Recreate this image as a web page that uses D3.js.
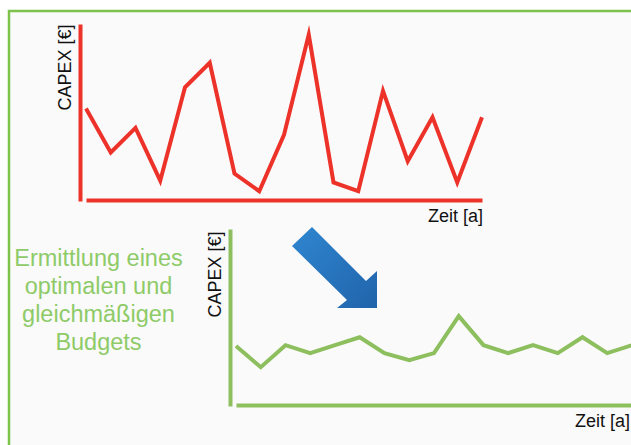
<!DOCTYPE html>
<html>
<head>
<meta charset="utf-8">
<script src="https://cdn.jsdelivr.net/npm/d3@7"></script>
<style>
  html, body { margin: 0; padding: 0; background: #ffffff; }
  svg { display: block; }
</style>
</head>
<body>
<div id="chart"></div>
<script>
// Years on the time axis (17 periods)
const years = d3.range(1, 18);

// CAPEX per year before optimisation (uneven, peaky)
const capexBefore = [52, 27, 41, 11, 64, 78, 15, 5, 37, 94, 10, 5, 62, 22, 47, 10, 47];

// CAPEX per year after optimisation (even budget)
const capexAfter = [33.5, 21.5, 34, 29.5, 34, 38.5, 29.5, 25.5, 29.5, 50.5, 34, 29.5, 34, 29.5, 38.5, 29.5, 34];

const yLabel = "CAPEX [€]";
const xLabel = "Zeit [a]";
const captionLines = ["Ermittlung eines", "optimalen und", "gleichmäßigen", "Budgets"];

const W = 631, H = 445;
const FONT = "'Liberation Sans', Arial, sans-serif";

const svg = d3.select("#chart").append("svg")
  .attr("width", W).attr("height", H);

// Frame around the slide content
svg.append("rect")
  .attr("x", 9).attr("y", 11)
  .attr("width", 700).attr("height", 500)
  .attr("fill", "#fafafa")
  .attr("stroke", "#7dc24b")
  .attr("stroke-width", 2.5);

// One small line chart with bare axes
function panel(opts) {
  const g = svg.append("g");
  const x = d3.scaleLinear().domain([1, 17]).range([opts.x0, opts.x1]);
  const y = d3.scaleLinear().domain([0, 100]).range([opts.yBottom, opts.yTop]);

  const xAxis = g.append("g")
    .attr("transform", `translate(0,${opts.yBottom})`)
    .call(d3.axisBottom(x).ticks(0).tickSizeOuter(0));
  const yAxis = g.append("g")
    .attr("transform", `translate(${opts.yAxisX},0)`)
    .call(d3.axisLeft(y.copy().range([opts.yBottom + 1, opts.yTop])).ticks(0).tickSizeOuter(0));
  [xAxis, yAxis].forEach(a => {
    a.selectAll(".tick").remove();
    a.select(".domain")
      .attr("stroke", opts.color)
      .attr("stroke-width", 4)
      .attr("fill", "none");
  });

  const line = d3.line()
    .x((d, i) => x(years[i]))
    .y(d => y(d));

  g.append("path")
    .datum(opts.values)
    .attr("d", line)
    .attr("fill", "none")
    .attr("stroke", opts.color)
    .attr("stroke-width", 4)
    .attr("stroke-linejoin", "miter")
    .attr("stroke-miterlimit", 10);

  g.append("text")
    .attr("transform", `translate(${opts.yAxisX - 9},${opts.labelMidY}) rotate(-90)`)
    .attr("text-anchor", "middle")
    .attr("font-family", FONT)
    .attr("font-size", 18)
    .attr("fill", "#111")
    .text(yLabel);

  g.append("text")
    .attr("x", opts.xLabelEnd)
    .attr("y", opts.yBottom + 22)
    .attr("text-anchor", "end")
    .attr("font-family", FONT)
    .attr("font-size", 18)
    .attr("fill", "#111")
    .text(xLabel);
}

panel({ values: capexBefore, color: "#ec3229", x0: 86, x1: 482, yAxisX: 80, yTop: 24, yBottom: 200,
        labelMidY: 67.5, xLabelEnd: 483 });
panel({ values: capexAfter, color: "#8dbf5f", x0: 236, x1: 632, yAxisX: 230, yTop: 229, yBottom: 405,
        labelMidY: 274.5, xLabelEnd: 630 });

// Caption on the left
const caption = svg.append("text")
  .attr("font-family", FONT)
  .attr("font-size", 23.5)
  .attr("fill", "#8ecb68")
  .attr("text-anchor", "middle");
captionLines.forEach((t, i) => {
  caption.append("tspan").attr("x", 98.5).attr("y", 266 + i * 28).text(t);
});

// Blue arrow pointing from the uneven to the even budget
const defs = svg.append("defs");
const grad = defs.append("linearGradient")
  .attr("id", "arrowFill")
  .attr("x1", "0%").attr("y1", "0%").attr("x2", "100%").attr("y2", "100%");
grad.append("stop").attr("offset", "0%").attr("stop-color", "#2f86d0");
grad.append("stop").attr("offset", "100%").attr("stop-color", "#2064ab");

const arrowPts = [[312, 227], [366, 281], [377, 271], [377, 308], [337, 308], [347, 300], [292, 246]];
svg.append("path")
  .attr("d", d3.line()(arrowPts) + "Z")
  .attr("fill", "url(#arrowFill)");
</script>
</body>
</html>
